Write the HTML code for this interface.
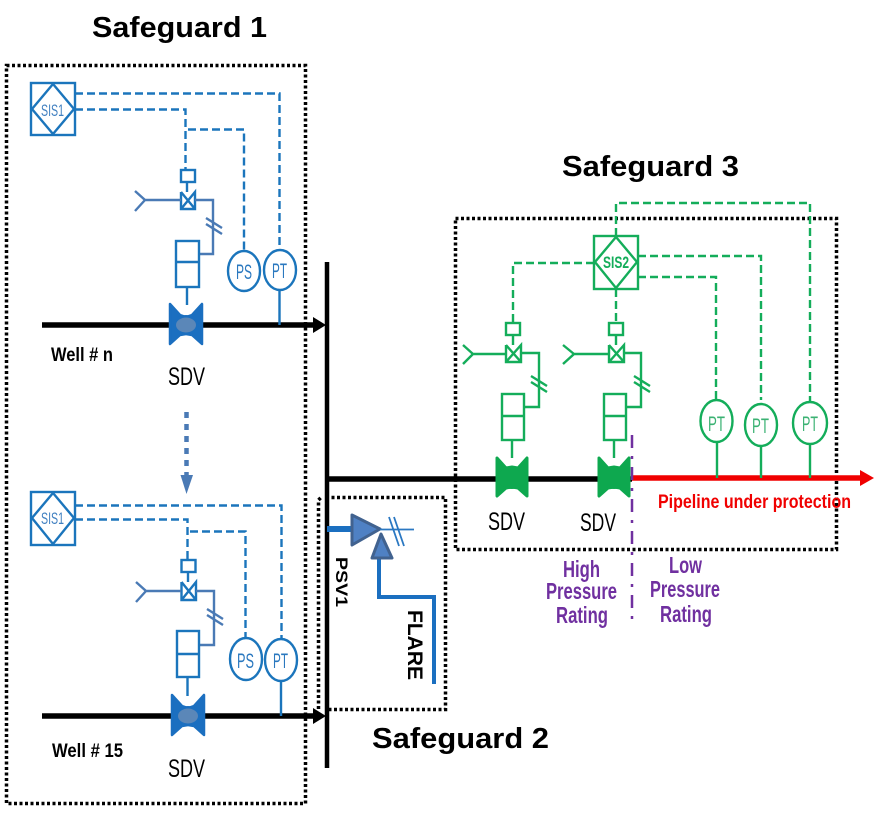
<!DOCTYPE html>
<html>
<head>
<meta charset="utf-8">
<style>
html,body{margin:0;padding:0;background:#fff;width:874px;height:813px;overflow:hidden}
svg{display:block}
text{font-family:"Liberation Sans",sans-serif}
.t{font-weight:bold;font-size:29px;fill:#000}
.b{stroke:#1b75bc;fill:none;stroke-width:2.400}
.bd{stroke:#1b75bc;fill:none;stroke-width:2.400;stroke-dasharray:8 4}
.bs{stroke:#4a7ab5;fill:none;stroke-width:2.400}
.g{stroke:#14ad5a;fill:none;stroke-width:2.400}
.gd{stroke:#14ad5a;fill:none;stroke-width:2.400;stroke-dasharray:8 4}
.dot{fill:none;stroke:#000;stroke-width:3.500;stroke-dasharray:3 2.500}
.il{font-size:21px;text-anchor:start}
.sis{font-size:17px;text-anchor:start}
.lb{font-size:25px;fill:#000;text-anchor:start}
.wl{font-size:19px;font-weight:bold;fill:#000}
.pu{font-size:23px;font-weight:bold;fill:#7030a0;text-anchor:start}
</style>
</head>
<body>
<svg width="874" height="813" viewBox="0 0 874 813" xmlns="http://www.w3.org/2000/svg">
<text class="t" x="92" y="37" textLength="175" lengthAdjust="spacingAndGlyphs">Safeguard 1</text>
<text class="t" x="562" y="176" textLength="177" lengthAdjust="spacingAndGlyphs">Safeguard 3</text>
<text class="t" x="372" y="748" textLength="177" lengthAdjust="spacingAndGlyphs">Safeguard 2</text>

<rect class="dot" x="6.500" y="65.500" width="299" height="738"/>
<rect class="dot" x="455.500" y="218.500" width="381" height="331"/>
<path class="dot" d="M326 497.500H445.500V709.500H328M318.500 709V500L321 497.500"/>

<!-- Well n -->
<g>
<path d="M42 325H316" stroke="#000" stroke-width="5.500"/>
<path d="M313 317L326 325L313 333Z" fill="#000"/>
<rect class="b" x="31" y="83" width="44" height="52"/>
<path class="b" d="M32 109L53 84L74 109L53 134Z"/>
<text class="sis" x="41" y="116" fill="#3f7fc0" textLength="23" lengthAdjust="spacingAndGlyphs">SIS1</text>
<path class="bd" d="M75 93.500H279.500V248"/>
<path class="bd" d="M75 109.500H185.500V170"/>
<path class="bd" d="M188 129.500H244V250"/>
<rect class="b" x="181" y="170" width="14" height="12"/>
<path class="b" d="M187 182V192"/>
<path class="b" d="M181 192V209H195V192L181 209M181 192L195 209"/>
<path class="bs" d="M135 191L145 200L135 211M145 200H181"/>
<path class="bs" d="M195 200H213V254H199"/>
<path class="bs" d="M206 218L222 228M206 224L222 234"/>
<rect class="b" x="176" y="241" width="23" height="46"/>
<path class="b" d="M176 262H199M187 287V305"/>
<path d="M170 304L180 315L186 317L192 315L202 304V344L192 335L186 334L180 335L170 344Z" fill="#1b6fc0" stroke="#1b6fc0" stroke-width="2.500" stroke-linejoin="round"/>
<ellipse cx="186" cy="325" rx="13" ry="10" fill="#1b6fc0"/>
<ellipse cx="186" cy="325" rx="10" ry="7.500" fill="#5b87b8"/>
<ellipse class="b" cx="244" cy="271" rx="16" ry="20"/>
<ellipse class="b" cx="280" cy="270" rx="16" ry="20"/>
<path class="b" d="M279.500 290V325"/>
<text class="il" x="236" y="279" fill="#2a78bf" textLength="16" lengthAdjust="spacingAndGlyphs">PS</text>
<text class="il" x="272" y="278" fill="#2a78bf" textLength="15" lengthAdjust="spacingAndGlyphs">PT</text>
<text class="wl" x="51" y="361" textLength="62" lengthAdjust="spacingAndGlyphs">Well # n</text>
<text class="lb" x="168" y="385" textLength="37" lengthAdjust="spacingAndGlyphs">SDV</text>
</g>

<!-- dotted arrow -->
<path d="M186.500 412V476" stroke="#4a7ab5" stroke-width="4.500" stroke-dasharray="6 6"/>
<path d="M180.500 475H193L186.500 494Z" fill="#4a7ab5"/>

<!-- Well 15 -->
<g>
<path d="M42 716H316" stroke="#000" stroke-width="5.500"/>
<path d="M313 708L326 716L313 724Z" fill="#000"/>
<rect class="b" x="31" y="492" width="44" height="53"/>
<path class="b" d="M32 518L53 493L74 518L53 544Z"/>
<text class="sis" x="41" y="524" fill="#3f7fc0" textLength="23" lengthAdjust="spacingAndGlyphs">SIS1</text>
<path class="bd" d="M75 505.500H281.500V640"/>
<path class="bd" d="M75 519.500H187.500V560"/>
<path class="bd" d="M190 531.500H245.500V637"/>
<rect class="b" x="181.500" y="560" width="14" height="12"/>
<path class="b" d="M188 572V582"/>
<path class="b" d="M181.500 582V600H196V582L181.500 600M181.500 582L196 600"/>
<path class="bs" d="M136 582L146 591L136 602M146 591H181"/>
<path class="bs" d="M196 591H214V645H200"/>
<path class="bs" d="M207 609L223 619M207 615L223 625"/>
<rect class="b" x="177" y="631" width="22" height="46"/>
<path class="b" d="M177 654H199M187.500 677V696"/>
<path d="M172 695L182 706L188 708L194 706L204 695V735L194 726L188 725L182 726L172 735Z" fill="#1b6fc0" stroke="#1b6fc0" stroke-width="2.500" stroke-linejoin="round"/>
<ellipse cx="188" cy="716" rx="13" ry="10" fill="#1b6fc0"/>
<ellipse cx="188" cy="716" rx="10" ry="7.500" fill="#5b87b8"/>
<ellipse class="b" cx="246" cy="659" rx="16" ry="21"/>
<ellipse class="b" cx="281" cy="660" rx="16" ry="21"/>
<path class="b" d="M281 681V716"/>
<text class="il" x="237" y="668" fill="#2a78bf" textLength="17" lengthAdjust="spacingAndGlyphs">PS</text>
<text class="il" x="273" y="668" fill="#2a78bf" textLength="15" lengthAdjust="spacingAndGlyphs">PT</text>
<text class="wl" x="52" y="757" textLength="71" lengthAdjust="spacingAndGlyphs">Well # 15</text>
<text class="lb" x="168" y="777" textLength="37" lengthAdjust="spacingAndGlyphs">SDV</text>
</g>

<!-- Header bar -->
<path d="M327 262V768" stroke="#000" stroke-width="4.500"/>

<!-- PSV -->
<path d="M327 529H352" stroke="#1b6fc0" stroke-width="6"/>
<path d="M379 558V597H434V684" stroke="#1b6fc0" stroke-width="4" fill="none"/>
<path d="M352 515L380 529L352 545Z" fill="#4f81c4" stroke="#41628f" stroke-width="3" stroke-linejoin="round"/>
<path d="M372 558L381 534L392 558Z" fill="#4f81c4" stroke="#41628f" stroke-width="3" stroke-linejoin="round"/>
<path d="M380 529.500H414M389 517L399 546M394 517L404 546" stroke="#2b78c2" stroke-width="1.800" fill="none"/>
<text font-size="17" font-weight="bold" fill="#000" transform="translate(336,557) rotate(90)" textLength="50" lengthAdjust="spacingAndGlyphs">PSV1</text>
<text font-size="21" font-weight="bold" fill="#000" transform="translate(408,610) rotate(90)" textLength="70" lengthAdjust="spacingAndGlyphs">FLARE</text>

<!-- Safeguard 3 -->
<path d="M327 479H632" stroke="#000" stroke-width="5.500"/>
<path d="M632 478H862" stroke="#f00000" stroke-width="5.500"/>
<path d="M860 470L874 478L860 486Z" fill="#f00000"/>

<rect class="g" x="594" y="236" width="44" height="53"/>
<path class="g" d="M595 262L616 237L637 262L616 288Z"/>
<text x="603" y="268" font-size="17" font-weight="bold" fill="#14ad5a" textLength="26" lengthAdjust="spacingAndGlyphs">SIS2</text>
<path class="gd" d="M616 236V203H810V402"/>
<path class="gd" d="M594 263H513V322"/>
<path class="gd" d="M616 289V322"/>
<path class="gd" d="M638 256H761V400"/>
<path class="gd" d="M638 277H716V400"/>

<rect class="g" x="506" y="323" width="14" height="12"/>
<path class="g" d="M513 335V345"/>
<path class="g" d="M506 345V362H521V345L506 362M506 345L521 362"/>
<path class="g" d="M463 345L473 354L463 364M473 354H506"/>
<path class="g" d="M521 353H539V407H524"/>
<path class="g" d="M531 376L547 386M531 382L547 392"/>
<rect class="g" x="502" y="394" width="22" height="46"/>
<path class="g" d="M502 416H524M512 440V458"/>
<path d="M497 458L506 468L512 467L518 468L527 458V496L518 488L512 487L506 488L497 496Z" fill="#0ea84f" stroke="#0ea84f" stroke-width="3" stroke-linejoin="round"/>
<ellipse cx="512" cy="478" rx="14" ry="11" fill="#0ea84f"/>

<rect class="g" x="609" y="323" width="14" height="12"/>
<path class="g" d="M616 335V345"/>
<path class="g" d="M609 345V362H624V345L609 362M609 345L624 362"/>
<path class="g" d="M563 345L574 354L563 364M574 354H609"/>
<path class="g" d="M624 353H641V407H625"/>
<path class="g" d="M634 376L650 386M634 382L650 392"/>
<rect class="g" x="604" y="394" width="22" height="46"/>
<path class="g" d="M604 416H626M614 440V458"/>
<path d="M599 458L608 468L614 467L620 468L629 458V496L620 488L614 487L608 488L599 496Z" fill="#0ea84f" stroke="#0ea84f" stroke-width="3" stroke-linejoin="round"/>
<ellipse cx="614" cy="478" rx="14" ry="11" fill="#0ea84f"/>

<ellipse class="g" cx="716.500" cy="421" rx="16" ry="21"/>
<ellipse class="g" cx="761" cy="425" rx="16" ry="21"/>
<ellipse class="g" cx="810" cy="423" rx="17" ry="21"/>
<path class="g" d="M717 442V478M761 446V478M810 444V478"/>
<text class="il" x="708" y="431" font-size="22" fill="#3bb273" textLength="17" lengthAdjust="spacingAndGlyphs">PT</text>
<text class="il" x="752" y="433" fill="#3bb273" textLength="17" lengthAdjust="spacingAndGlyphs">PT</text>
<text class="il" x="802" y="431" fill="#3bb273" textLength="16" lengthAdjust="spacingAndGlyphs">PT</text>

<text class="lb" x="488" y="530" textLength="37" lengthAdjust="spacingAndGlyphs">SDV</text>
<text class="lb" x="580" y="531" textLength="36" lengthAdjust="spacingAndGlyphs">SDV</text>
<text x="658" y="508" font-size="19" font-weight="bold" fill="#f00000" textLength="193" lengthAdjust="spacingAndGlyphs">Pipeline under protection</text>

<path d="M632 435V622" stroke="#7030a0" stroke-width="2.500" stroke-dasharray="13 8 3 8"/>
<text class="pu" x="563" y="577" textLength="37" lengthAdjust="spacingAndGlyphs">High</text>
<text class="pu" x="546" y="599" textLength="71" lengthAdjust="spacingAndGlyphs">Pressure</text>
<text class="pu" x="556" y="623" textLength="52" lengthAdjust="spacingAndGlyphs">Rating</text>
<text class="pu" x="669" y="573" textLength="33" lengthAdjust="spacingAndGlyphs">Low</text>
<text class="pu" x="650" y="597" textLength="70" lengthAdjust="spacingAndGlyphs">Pressure</text>
<text class="pu" x="660" y="622" textLength="52" lengthAdjust="spacingAndGlyphs">Rating</text>
</svg>
</body>
</html>
